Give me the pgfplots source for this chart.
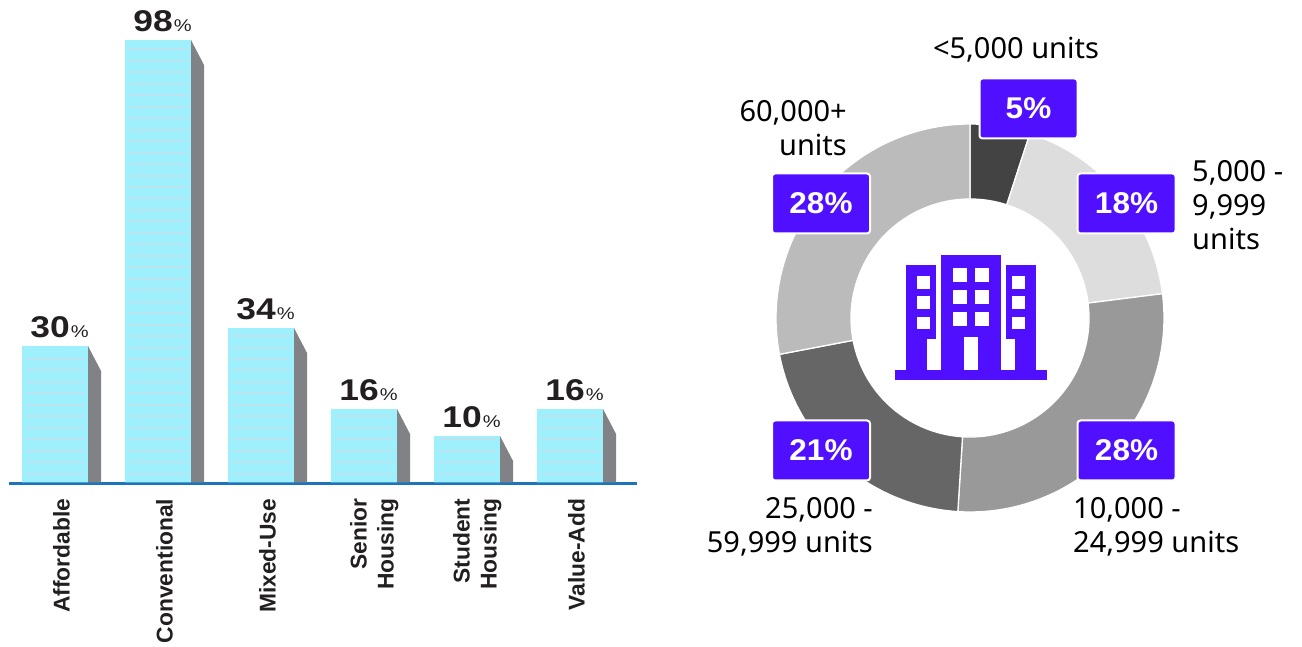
\documentclass[border=0pt]{standalone}
\usepackage{pgfplots}
\pgfplotsset{compat=1.18}
\usepackage{fontspec}
\setmainfont{Noto Sans}
\newfontfamily\labelfont{Liberation Sans}
\newfontfamily\valuefont[FakeStretch=1.18]{Liberation Sans}
\newfontfamily\badgefont[FakeStretch=1.05]{Liberation Sans}
\newfontfamily\notefont{Noto Sans}

\definecolor{barface}{HTML}{9EF0FC}
\definecolor{barstripe}{HTML}{BBE2EE}
\definecolor{barside}{HTML}{808285}
\definecolor{baseline}{HTML}{1C75BC}
\definecolor{brandviolet}{HTML}{5010FF}
\definecolor{inkdark}{HTML}{231F20}
\definecolor{sliceA}{HTML}{434343}
\definecolor{sliceB}{HTML}{DDDDDD}
\definecolor{sliceC}{HTML}{999999}
\definecolor{sliceD}{HTML}{666666}
\definecolor{sliceE}{HTML}{BBBBBB}

% Side face and stripes of one building-shaped bar: {position}{value}
\newcommand\barextras[2]{%
  \pgfmathsetmacro\xr{#1+26.5/103}%
  \pgfmathsetmacro\xo{#1+39.5/103}%
  \pgfmathsetmacro\yo{#2-25/4.5}%
  \edef\temp{\noexpand\addplot[sharp plot,fill=barside,draw=none,forget plot]
    coordinates {(\xr,#2) (\xo,\yo) (\xo,-0.33) (\xr,-0.33)} -- cycle;}%
  \temp
  \pgfmathsetmacro\xa{#1-35.5/103}%
  \pgfmathsetmacro\xb{#1+22.5/103}%
  \pgfmathtruncatemacro\kmax{((#2-0.67)*4.5-7.3)/11.47}%
  \pgfplotsforeachungrouped \k in {0,...,\kmax}{%
    \pgfmathsetmacro\ys{(7.3+11.47*\k)/4.5}%
    \edef\temp{\noexpand\addplot[sharp plot,color=barstripe,line width=2pt,forget plot]
      coordinates {(\xa,\ys) (\xb,\ys)};}%
    \temp
  }%
}

% One ring slice: {share in percent}{colour}; slices run clockwise from twelve o'clock
\gdef\cumshare{0}
\newcommand\donutslice[2]{%
  \pgfmathsetmacro\shareend{\cumshare+#1}%
  \pgfmathtruncatemacro\nsteps{max(2,round(3.6*#1))}%
  \gdef\ringcoords{}%
  \foreach \k in {0,...,\nsteps}{%
    \pgfmathsetmacro\ang{90-3.6*(\cumshare+#1*\k/\nsteps)}%
    \pgfmathsetmacro\px{194*cos(\ang)}%
    \pgfmathsetmacro\py{194*sin(\ang)}%
    \xdef\ringcoords{\ringcoords (\px,\py)}%
  }%
  \foreach \k in {\nsteps,...,0}{%
    \pgfmathsetmacro\ang{90-3.6*(\cumshare+#1*\k/\nsteps)}%
    \pgfmathsetmacro\px{119*cos(\ang)}%
    \pgfmathsetmacro\py{119*sin(\ang)}%
    \xdef\ringcoords{\ringcoords (\px,\py)}%
  }%
  \edef\temp{\noexpand\addplot[fill=#2,draw=white,line width=1.3pt,line join=round]
    coordinates {\ringcoords} -- cycle;}%
  \temp
  \xdef\cumshare{\shareend}%
}

\begin{document}
\begin{tikzpicture}[x=1pt,y=1pt]
\path[use as bounding box] (0,0) rectangle (1302,646);

% Bar chart: share by property type
\begin{axis}[
  at={(9pt,162.5pt)},anchor=south west,
  scale only axis,width=628pt,height=483.5pt,
  xmin=-0.51,xmax=5.587,
  y coord trafo/.code={\pgfmathparse{#1+0.33}},
  ymin=-0.556,ymax=106.9,
  clip=false,
  axis y line=none,
  axis x line=bottom,
  axis line style={color=baseline,line width=3pt,-},
  major tick length=0pt,
  xtick={0,...,5},
  xticklabels={Affordable,Conventional,Mixed-Use,
    {\rule{0pt}{24pt}Senior\\Housing},{\rule{0pt}{24pt}Student\\Housing},Value-Add},
  xticklabel style={rotate=90,anchor=east,align=right,inner sep=0pt,xshift=-15pt,
    font=\labelfont\bfseries\fontsize{22.8}{27}\selectfont,text=inkdark},
  ybar,bar width=66pt,bar shift=-6.5pt,
]
\addplot[fill=barface,draw=none,
  point meta=explicit symbolic,
  nodes near coords={\pgfplotspointmeta{\mdseries\fontsize{17}{17}\selectfont\hspace{1pt}\%}},
  every node near coord/.append style={inner sep=0pt,yshift=8pt,xshift=4.5pt,text=inkdark,
    font=\valuefont\bfseries\fontsize{30}{30}\selectfont},
] coordinates {(0,30) [30] (1,98) [98] (2,34) [34] (3,16) [16] (4,10) [10] (5,16) [16]};
\barextras{0}{30}
\barextras{1}{98}
\barextras{2}{34}
\barextras{3}{16}
\barextras{4}{10}
\barextras{5}{16}
\end{axis}

% Ring chart: share by portfolio size
\begin{axis}[
  at={(970pt,328pt)},anchor=center,
  scale only axis,width=400pt,height=400pt,
  xmin=-200,xmax=200,ymin=-200,ymax=200,
  hide axis,clip=false,
]
\donutslice{5}{sliceA}
\donutslice{18}{sliceB}
\donutslice{28}{sliceC}
\donutslice{21}{sliceD}
\donutslice{28}{sliceE}
\end{axis}

\begin{scope}[shift={(0,646)},y=-1pt]
  % percentage badges
  \tikzset{badge/.style={fill=brandviolet,draw=white,line width=2pt,rounded corners=3pt,
    text=white,inner sep=0pt,minimum width=98pt,minimum height=60pt,
    font=\badgefont\bfseries\fontsize{30}{30}\selectfont}}
  \node[badge] at (1028.5,108.5) {5\%};
  \node[badge] at (1126.5,203.5) {18\%};
  \node[badge] at (821,203.5) {28\%};
  \node[badge] at (821,450.5) {21\%};
  \node[badge] at (1126.5,450.5) {28\%};

  % size-band captions
  \tikzset{bandnote/.style={inner sep=0pt,text=black,font=\notefont\fontsize{29}{34}\selectfont}}
  \node[bandnote,anchor=base] at (1016,58.5) {<5,000 units};
  \node[bandnote,anchor=base east,align=right] at (847,156) {60,000+\\units};
  \node[bandnote,anchor=base west,align=left] at (1192,250) {5,000 -\\9,999\\units};
  \node[bandnote,anchor=base west,align=left] at (1073,552) {10,000 -\\24,999 units};
  \node[bandnote,anchor=base east,align=right] at (873,552) {25,000 -\\59,999 units};

  % apartment-block icon
  \fill[brandviolet] (895.3,370.3) rectangle (1046.7,379.7);
  \fill[brandviolet] (941.3,255.3) rectangle (1000.7,371);
  \fill[brandviolet] (906.3,264.7) rectangle (936,338.7);
  \fill[brandviolet] (906.3,338) rectangle (927.3,371);
  \fill[brandviolet] (1006,264.7) rectangle (1035.7,338.7);
  \fill[brandviolet] (1015,338) rectangle (1035.7,371);
  \fill[white] (964.3,337) rectangle (978.3,370.3);
  \foreach \wy in {268,290,312}{
    \fill[white] (953.3,\wy) rectangle +(13.7,13.7);
    \fill[white] (975.3,\wy) rectangle +(13.7,13.7);
  }
  \foreach \wy in {276.3,296.3,316.7}{
    \fill[white] (917.3,\wy) rectangle +(12.4,12.4);
    \fill[white] (1012.3,\wy) rectangle +(12.7,12.4);
  }
\end{scope}
\end{tikzpicture}
\end{document}
